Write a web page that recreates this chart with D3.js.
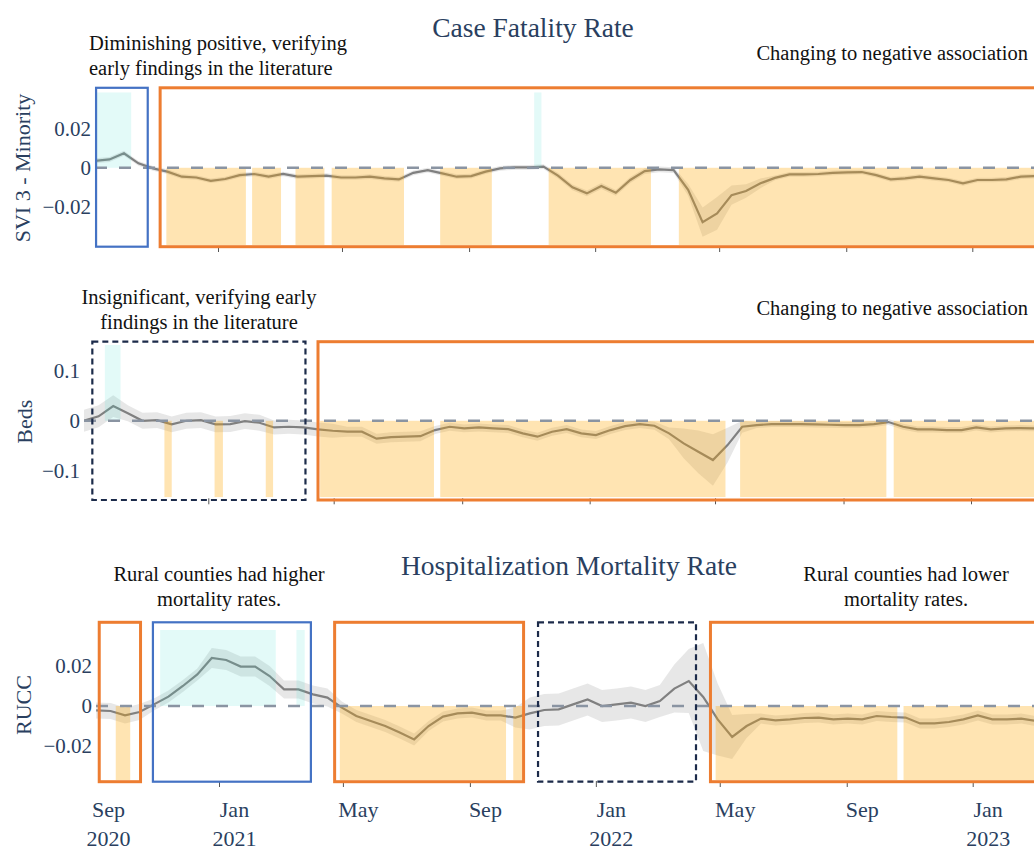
<!DOCTYPE html>
<html>
<head>
<meta charset="utf-8">
<script src="https://cdn.jsdelivr.net/npm/d3@7"></script>
<style>
  body { margin: 0; background: #fff; }
  svg { display: block; font-family: "Times New Roman", "Liberation Serif", serif; }
</style>
</head>
<body>
<svg id="chart" width="1034" height="849"></svg>
<script>
// biweekly sample dates shared by all three series
const dates = [
  '2020-09-04', '2020-09-18', '2020-10-02', '2020-10-16', '2020-10-30', '2020-11-13', '2020-11-27', '2020-12-11', '2020-12-25',
  '2021-01-08', '2021-01-22', '2021-02-05', '2021-02-19', '2021-03-05', '2021-03-19', '2021-04-02', '2021-04-16', '2021-04-30',
  '2021-05-14', '2021-05-28', '2021-06-11', '2021-06-25', '2021-07-09', '2021-07-23', '2021-08-06', '2021-08-20', '2021-09-03',
  '2021-09-17', '2021-10-01', '2021-10-15', '2021-10-29', '2021-11-12', '2021-11-26', '2021-12-10', '2021-12-24',
  '2022-01-07', '2022-01-21', '2022-02-04', '2022-02-18', '2022-03-04', '2022-03-18', '2022-04-01', '2022-04-15', '2022-04-29',
  '2022-05-13', '2022-05-27', '2022-06-10', '2022-06-24', '2022-07-08', '2022-07-22', '2022-08-05', '2022-08-19', '2022-09-02',
  '2022-09-16', '2022-09-30', '2022-10-14', '2022-10-28', '2022-11-11', '2022-11-25', '2022-12-09', '2022-12-23',
  '2023-01-06', '2023-01-20', '2023-02-03', '2023-02-17', '2023-03-03'
]

const sviMean = [
  0.0036, 0.0043, 0.0075, 0.0023, -0.0003, -0.002, -0.0046, -0.005, -0.0067,
  -0.0058, -0.0038, -0.0032, -0.0046, -0.0032, -0.0046, -0.0043, -0.004, -0.005,
  -0.005, -0.0046, -0.0055, -0.006, -0.0026, -0.0012, -0.0029, -0.0046, -0.0043,
  -0.002, -0.0003, 0.0002, 0.0002, 0.0006, -0.004, -0.0101, -0.0132,
  -0.0094, -0.0129, -0.0063, -0.0017, -0.0008, -0.0012, -0.0114, -0.028, -0.0235,
  -0.0141, -0.012, -0.008, -0.0052, -0.0034, -0.0034, -0.0032, -0.0026, -0.0024,
  -0.0022, -0.0038, -0.006, -0.0055, -0.0046, -0.0055, -0.0063, -0.008,
  -0.0063, -0.0063, -0.006, -0.0046, -0.0043
]
const sviCI = [
  0.0013, 0.0013, 0.0013, 0.0012, 0.0012, 0.0012, 0.0012, 0.0012, 0.0012,
  0.0012, 0.0012, 0.0012, 0.0012, 0.0012, 0.0012, 0.0012, 0.0012, 0.0012,
  0.0012, 0.0012, 0.0012, 0.0012, 0.0012, 0.0012, 0.0012, 0.0012, 0.0012,
  0.0012, 0.0012, 0.0012, 0.0012, 0.0012, 0.0015, 0.0015, 0.0015,
  0.0015, 0.0015, 0.0015, 0.0015, 0.0015, 0.0015, 0.003, 0.0075, 0.0085,
  0.005, 0.0035, 0.0025, 0.0012, 0.0012, 0.0012, 0.0012, 0.0012, 0.0012,
  0.0012, 0.0012, 0.0012, 0.0012, 0.0012, 0.0012, 0.0012, 0.0012,
  0.0012, 0.0012, 0.0012, 0.0012, 0.0012
]

const bedsMean = [
  0, 0.009, 0.0296, 0.015, 0.0, 0.0014, -0.0073, 0.0, 0.0014,
  -0.0073, -0.0066, -0.0006, -0.004, -0.0134, -0.012, -0.0134, -0.0174, -0.0201,
  -0.022, -0.022, -0.036, -0.033, -0.032, -0.031, -0.0187, -0.012, -0.0153,
  -0.0134, -0.0153, -0.0167, -0.0254, -0.032, -0.022, -0.0167, -0.0254,
  -0.0288, -0.0187, -0.0107, -0.0066, -0.01, -0.0254, -0.0455, -0.0624, -0.079,
  -0.049, -0.012, -0.0087, -0.0066, -0.0066, -0.0066, -0.0073, -0.008, -0.0087,
  -0.0087, -0.0066, -0.0026, -0.012, -0.0174, -0.0174, -0.0187, -0.0187,
  -0.0134, -0.0174, -0.0153, -0.0147, -0.0153
]
const bedsCI = [
  0.022, 0.022, 0.022, 0.016, 0.016, 0.016, 0.016, 0.016, 0.016,
  0.016, 0.016, 0.016, 0.016, 0.014, 0.014, 0.014, 0.014, 0.014,
  0.01, 0.01, 0.01, 0.01, 0.01, 0.01, 0.008, 0.008, 0.008,
  0.008, 0.008, 0.008, 0.008, 0.008, 0.008, 0.008, 0.008,
  0.008, 0.008, 0.008, 0.008, 0.008, 0.012, 0.03, 0.043, 0.052,
  0.035, 0.012, 0.006, 0.006, 0.006, 0.006, 0.006, 0.006, 0.006,
  0.006, 0.006, 0.006, 0.006, 0.006, 0.006, 0.006, 0.006,
  0.006, 0.006, 0.006, 0.006, 0.006
]

const ruccMean = [
  -0.0022, -0.0025, -0.0047, -0.003, 0.0008, 0.0047, 0.01, 0.0158, 0.024,
  0.023, 0.0197, 0.0197, 0.015, 0.0083, 0.0083, 0.0058, 0.0042, -0.0008,
  -0.005, -0.0075, -0.01, -0.0133, -0.0167, -0.01, -0.0053, -0.0037, -0.0033,
  -0.0047, -0.0047, -0.0058, -0.0037, -0.002, -0.0017, 0.0008, 0.0033,
  0, 0.0008, 0.0017, 0, 0.0025, 0.0087, 0.0125, 0.0045, -0.0067,
  -0.0155, -0.01, -0.0063, -0.0072, -0.0067, -0.006, -0.0058, -0.0067, -0.0063,
  -0.0067, -0.005, -0.0055, -0.0058, -0.0087, -0.0087, -0.008, -0.0067,
  -0.0047, -0.0067, -0.0067, -0.0063, -0.0075
]
const ruccCI = [
  0.004, 0.004, 0.004, 0.004, 0.003, 0.003, 0.003, 0.003, 0.005,
  0.005, 0.005, 0.005, 0.005, 0.0045, 0.0045, 0.0045, 0.0045, 0.003,
  0.003, 0.003, 0.003, 0.003, 0.003, 0.0025, 0.0025, 0.0025, 0.0025,
  0.0025, 0.0025, 0.005, 0.008, 0.008, 0.008, 0.008, 0.008,
  0.008, 0.008, 0.008, 0.008, 0.008, 0.012, 0.016, 0.027, 0.018,
  0.011, 0.006, 0.0025, 0.0025, 0.0025, 0.0025, 0.0025, 0.0025, 0.0025,
  0.0025, 0.0025, 0.0025, 0.0025, 0.0025, 0.0025, 0.0025, 0.0025,
  0.0025, 0.0025, 0.0025, 0.0025, 0.0025
]

// significance periods: positive (cyan) and negative (orange)
const sviPos = [['2020-09-04', '2020-10-09'], ['2021-11-03', '2021-11-10']]
const sviNeg = [['2020-11-12', '2021-01-28'], ['2021-02-03', '2021-03-03'], ['2021-03-17', '2021-04-14'],
  ['2021-04-21', '2021-06-30'], ['2021-08-04', '2021-09-23'], ['2021-11-17', '2022-02-24'], ['2022-03-23', '2023-03-31']]
const bedsPos = [['2020-09-24', '2020-10-09']]
const bedsNeg = [['2020-11-20', '2020-11-27'], ['2021-01-07', '2021-01-15'], ['2021-02-25', '2021-03-04'],
  ['2021-04-18', '2021-08-05'], ['2021-08-11', '2022-05-11'], ['2022-05-25', '2022-10-12'], ['2022-10-19', '2023-03-31']]
const ruccPos = [['2020-11-05', '2021-02-25'], ['2021-03-17', '2021-03-25']]
const ruccNeg = [['2020-09-23', '2020-10-07'], ['2021-04-28', '2021-10-06'], ['2021-10-13', '2021-10-22'],
  ['2022-04-27', '2022-10-20'], ['2022-10-26', '2023-03-31']]

// highlighted periods
const sviBoxes = [['2020-09-05', '2020-10-25', 'blue'], ['2020-11-06', '2023-06-01', 'orange']]
const bedsBoxes = [['2020-09-12', '2021-04-04', 'dash'], ['2021-04-16', '2023-06-01', 'orange']]
const ruccBoxes = [['2020-09-07', '2020-10-17', 'orange'], ['2020-10-29', '2021-03-31', 'blue'],
  ['2021-04-23', '2021-10-23', 'orange'], ['2021-11-06', '2022-04-08', 'dash'], ['2022-04-22', '2023-06-01', 'orange']]

const monthTicks = ['2020-09-01', '2021-01-01', '2021-05-01', '2021-09-01', '2022-01-01', '2022-05-01', '2022-09-01', '2023-01-01']

const parse = d3.timeParse('%Y-%m-%d')
const NAVY = '#2a3f5f'
const SERIF = '"Times New Roman", "Liberation Serif", serif'
const BOX = { orange: '#ed7d31', blue: '#4472c4', dash: '#1c2b4a' }

const svg = d3.select('#chart')
svg.append('rect').attr('width', 1034).attr('height', 849).attr('fill', '#fff')

const panels = [
  { name: 'SVI 3 - Minority', mean: sviMean, ci: sviCI, pos: sviPos, neg: sviNeg, boxes: sviBoxes,
    yTicks: [-0.02, 0, 0.02], yDom: [-0.0398, 0.0389], top: 92.3, bottom: 245, left: 95,
    xAnchor: [218, 972.3], boxPad: [4.5, 1.7], titleX: 29.5, titleY: 168, labels: false },
  { name: 'Beds', mean: bedsMean, ci: bedsCI, pos: bedsPos, neg: bedsNeg, boxes: bedsBoxes,
    yTicks: [-0.1, 0, 0.1], yDom: [-0.154, 0.1525], top: 345, bottom: 497.3, left: 84,
    xAnchor: [208.3, 971], boxPad: [3.3, 2.7], titleX: 31.5, titleY: 421.7, labels: false },
  { name: 'RUCC', mean: ruccMean, ci: ruccCI, pos: ruccPos, neg: ruccNeg, boxes: ruccBoxes,
    yTicks: [-0.02, 0, 0.02], yDom: [-0.037, 0.038], top: 630, bottom: 780, left: 96,
    xAnchor: [219, 972.7], boxPad: [7.7, 1.7], titleX: 30.7, titleY: 705, labels: true }
]

panels.forEach((p, i) => {
  const x = d3.scaleTime().domain([parse('2021-01-01'), parse('2023-01-01')]).range(p.xAnchor)
  const y = d3.scaleLinear().domain(p.yDom).range([p.bottom, p.top])
  const right = 1100
  const data = dates.map((d, j) => ({ date: parse(d), v: p.mean[j], lo: p.mean[j] - p.ci[j], hi: p.mean[j] + p.ci[j] }))

  svg.append('clipPath').attr('id', 'clip' + i)
    .append('rect').attr('x', p.left).attr('y', p.top).attr('width', right - p.left).attr('height', p.bottom - p.top)

  const g = svg.append('g').attr('clip-path', `url(#clip${i})`)

  g.append('path').datum(data)
    .attr('d', d3.area().x(d => x(d.date)).y0(d => y(d.lo)).y1(d => y(d.hi)))
    .attr('fill', 'rgba(120,120,120,0.18)')

  g.append('path').datum(data)
    .attr('d', d3.line().x(d => x(d.date)).y(d => y(d.v)))
    .attr('fill', 'none').attr('stroke', 'rgb(128,128,128)').attr('stroke-width', 2.2)

  g.selectAll('rect.pos').data(p.pos).join('rect').attr('class', 'pos')
    .attr('x', d => x(parse(d[0]))).attr('width', d => x(parse(d[1])) - x(parse(d[0])))
    .attr('y', p.top).attr('height', y(0) - p.top)
    .attr('fill', 'rgb(64,224,208)').attr('fill-opacity', 0.15)

  g.selectAll('rect.neg').data(p.neg).join('rect').attr('class', 'neg')
    .attr('x', d => x(parse(d[0]))).attr('width', d => x(parse(d[1])) - x(parse(d[0])))
    .attr('y', y(0)).attr('height', p.bottom - y(0))
    .attr('fill', 'rgb(255,165,0)').attr('fill-opacity', 0.3)

  g.append('line').attr('x1', p.left).attr('x2', right).attr('y1', y(0)).attr('y2', y(0))
    .attr('stroke', '#8a94a2').attr('stroke-width', 2.5).attr('stroke-dasharray', '12,12')

  // y axis
  const ya = svg.append('g').attr('transform', `translate(${p.left},0)`)
    .call(d3.axisLeft(y).tickValues(p.yTicks).tickSize(0).tickPadding(4).tickFormat(d3.format('~g')))
  ya.attr('font-family', SERIF).attr('font-size', 21)
  ya.select('.domain').remove()
  ya.selectAll('text').attr('fill', NAVY)

  svg.append('text').attr('transform', `translate(${p.titleX},${p.titleY}) rotate(-90)`)
    .attr('text-anchor', 'middle').attr('fill', NAVY).style('font-size', '22px').text(p.name)

  // x ticks
  const visTicks = monthTicks.map(parse).filter(d => x(d) >= p.left)
  const xa = svg.append('g').attr('transform', `translate(0,${p.bottom + 1})`)
    .call(d3.axisBottom(x).tickValues(visTicks).tickSize(6).tickFormat(''))
  xa.select('.domain').remove()
  xa.selectAll('line').attr('stroke', '#555')

  if (p.labels) {
    const fmtM = d3.timeFormat('%b')
    monthTicks.map(parse).forEach((d, k) => {
      const cx = x(d3.timeDay.offset(d, 15))
      svg.append('text').attr('x', cx).attr('y', 817.3).attr('text-anchor', 'middle')
        .attr('fill', NAVY).style('font-size', '22px').text(fmtM(d))
      if (k === 0 || d.getMonth() === 0) {
        svg.append('text').attr('x', cx).attr('y', 845.5).attr('text-anchor', 'middle')
          .attr('fill', NAVY).style('font-size', '22px').text(d.getFullYear())
      }
    })
  }

  // highlight boxes
  p.boxes.forEach(b => {
    const x0 = x(parse(b[0]))
    const x1 = x(parse(b[1]))
    svg.append('rect')
      .attr('x', x0).attr('y', p.top - p.boxPad[0])
      .attr('width', x1 - x0).attr('height', p.bottom - p.top + p.boxPad[0] + p.boxPad[1])
      .attr('fill', 'none').attr('stroke', BOX[b[2]])
      .attr('stroke-width', b[2] === 'orange' ? 3 : 2.2)
      .attr('stroke-dasharray', b[2] === 'dash' ? '6,4' : null)
  })
})

// titles
svg.append('text').attr('x', 533).attr('y', 37).attr('text-anchor', 'middle')
  .attr('fill', NAVY).style('font-size', '27.5px').text('Case Fatality Rate')
svg.append('text').attr('x', 569).attr('y', 575).attr('text-anchor', 'middle')
  .attr('fill', NAVY).style('font-size', '27.5px').text('Hospitalization Mortality Rate')

// annotations
const note = (lines, xPos, yPos, anchor) => {
  lines.forEach((t, k) => {
    svg.append('text').attr('x', xPos).attr('y', yPos + k * 25).attr('text-anchor', anchor)
      .attr('fill', '#111').style('font-size', '20.5px').text(t)
  })
}
note(['Diminishing positive, verifying', 'early findings in the literature'], 89, 50, 'start')
note(['Changing to negative association'], 1028, 60, 'end')
note(['Insignificant, verifying early', 'findings in the literature'], 199, 304, 'middle')
note(['Changing to negative association'], 1028, 315, 'end')
note(['Rural counties had higher', 'mortality rates.'], 219, 581, 'middle')
note(['Rural counties had lower', 'mortality rates.'], 906, 581, 'middle')
</script>
</body>
</html>
